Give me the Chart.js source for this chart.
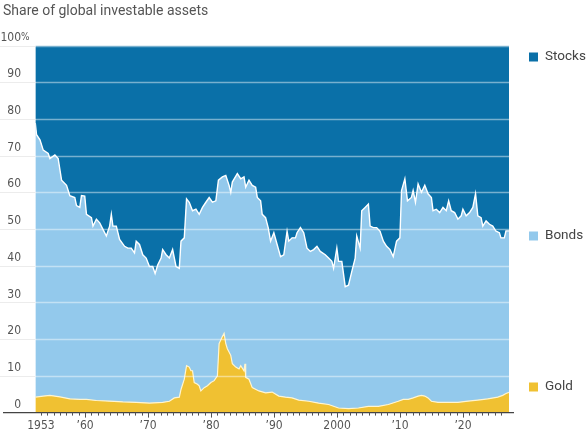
<!DOCTYPE html>
<html>
<head>
<meta charset="utf-8">
<script src="https://cdn.jsdelivr.net/npm/chart.js@4.4.1/dist/chart.umd.min.js"></script>
<style>
  html, body { margin: 0; padding: 0; background: #ffffff; }
  #c { display: block; }
</style>
</head>
<body>
<canvas id="c" width="588" height="441"></canvas>
<script>
// ---- Data ----
const titleText = 'Share of global investable assets';

// Top edge of the bonds band (gold + bonds, %); above it is stocks up to 100%
const bondYears = [1952.1,1952.3,1952.84,1953.36,1954.15,1954.42,1955.21,1955.73,1956.27,1957.06,1957.58,1958.37,1958.64,1959.16,1959.43,1959.95,1960.22,1961.01,1961.26,1961.8,1962.32,1962.84,1963.38,1963.9,1964.17,1964.42,1964.96,1965.48,1966.27,1966.79,1967.33,1967.85,1968.12,1968.64,1969.16,1969.7,1970.22,1970.74,1971.12,1971.53,1972.07,1972.32,1972.86,1973.38,1973.9,1974.44,1974.96,1975.23,1975.75,1976.11,1976.54,1977.06,1977.6,1978.12,1978.64,1979.18,1979.7,1980.22,1980.76,1981.17,1981.8,1982.34,1982.86,1983.13,1983.38,1984.17,1984.71,1985.23,1985.5,1986.02,1986.54,1987.08,1987.34,1987.87,1988.12,1988.66,1989.07,1989.45,1989.97,1990.49,1991.03,1991.55,1992.07,1992.34,1992.86,1993.4,1993.65,1994.19,1994.71,1995.23,1995.77,1996.29,1996.81,1997.34,1998.13,1998.66,1999.18,1999.45,1999.97,2000.24,2000.76,2001.3,2001.82,2002.34,2002.88,2003.13,2003.67,2003.92,2004.46,2004.98,2005.25,2005.77,2006.29,2006.83,2007.35,2007.87,2008.41,2008.92,2009.45,2009.98,2010.24,2010.77,2011.18,2011.81,2012.08,2012.45,2012.87,2013.4,2013.93,2014.45,2014.98,2015.24,2015.76,2016.3,2016.82,2017.34,2017.72,2018.13,2018.67,2019.19,2019.71,2019.98,2020.5,2021.04,2021.56,2021.99,2022.35,2022.87,2023.14,2023.66,2024.2,2024.72,2025.24,2025.77,2026.02,2026.56,2026.82,2027.3];
const bondsTop = [78.9,75.7,74.3,71.5,70.6,69.2,70.2,69.2,63.3,61.9,59.1,58.6,56.4,55.9,59.1,59.0,54.0,53.1,50.8,52.7,51.7,49.9,48.1,50.8,54.0,50.8,50.8,47.2,45.3,44.8,44.8,43.5,46.7,45.8,43.0,42.1,39.8,39.8,37.9,40.2,42.1,44.4,43.0,42.1,44.4,39.8,39.3,46.7,47.6,58.2,57.3,55.0,55.4,54.0,55.9,57.3,58.6,57.3,57.7,63.3,64.2,64.6,61.9,60.0,62.8,65.1,63.7,64.2,61.4,63.3,61.9,61.4,58.6,57.7,54.0,53.1,50.4,46.7,49.0,45.8,42.5,43.0,49.4,46.7,47.6,47.6,49.0,50.4,49.0,44.8,43.9,44.4,45.3,43.9,43.0,42.1,41.2,39.3,44.8,41.2,41.2,34.3,34.7,38.4,42.1,48.1,44.8,55.0,55.9,56.8,50.8,50.4,50.4,49.4,46.7,45.3,44.4,42.5,46.7,47.6,60.5,63.7,57.7,58.6,60.5,57.3,62.3,60.0,61.9,59.6,58.6,55.0,55.4,54.5,55.9,55.0,57.7,55.0,54.5,52.7,53.6,55.4,53.6,54.5,55.9,59.6,53.6,53.1,50.8,52.2,51.3,50.8,49.4,49.0,47.6,47.6,49.5,49.5];

// Gold share (%)
const goldYears = [1952.1,1953.36,1954.42,1956.0,1957.58,1959.16,1960.22,1961.8,1963.9,1966.0,1968.12,1970.22,1972.32,1973.38,1974.17,1974.96,1975.23,1975.75,1976.11,1976.54,1976.81,1977.06,1977.33,1977.85,1978.12,1978.38,1978.91,1979.43,1979.97,1980.49,1981.01,1981.28,1981.8,1982.07,1982.34,1982.59,1983.13,1983.38,1983.92,1984.44,1984.71,1985.23,1985.39,1985.5,1986.02,1986.54,1987.6,1988.66,1989.7,1990.76,1991.82,1992.86,1993.92,1995.5,1997.08,1998.66,2000.24,2001.82,2003.4,2004.98,2006.56,2008.14,2009.72,2010.51,2011.3,2012.09,2012.88,2013.4,2013.93,2014.45,2014.98,2016.03,2017.61,2019.19,2020.77,2022.35,2023.93,2025.51,2026.3,2026.82,2027.3];
const goldShare = [4.2,4.5,4.7,4.3,3.75,3.6,3.6,3.3,3.1,2.9,2.8,2.6,2.8,3.1,4.0,4.2,6.3,9.1,12.8,12.4,11.4,11.4,8.2,7.7,7.3,5.9,6.8,7.3,8.2,8.7,10.0,18.8,20.7,21.6,18.8,17.4,15.6,13.3,12.4,11.9,12.8,11.4,13.3,9.6,9.1,6.8,5.9,5.4,5.6,4.5,4.2,4.0,3.4,3.1,2.6,2.2,1.25,1.1,1.25,1.7,1.7,2.2,3.1,3.6,3.6,4.0,4.5,4.7,4.5,4.0,3.1,2.8,2.8,2.8,3.1,3.4,3.75,4.2,4.7,5.2,5.5];

const xTickYears = [1953, 1960, 1970, 1980, 1990, 2000, 2010, 2020];
const xTickLabels = ['1953', '\u201960', '\u201970', '\u201980', '\u201990', '2000', '\u201910', '\u201920'];
const yTickValues = [0, 10, 20, 30, 40, 50, 60, 70, 80, 90, 100];
const legendNames = ['Stocks', 'Bonds', 'Gold'];

// ---- Styles ----
const C_STOCKS = '#0a70a8';
const C_BONDS = '#93c9ec';
const C_GOLD = '#f0c132';
const NARROW = '"Liberation Sans Narrow", "DejaVu Sans Condensed", Roboto, sans-serif';
const SANS = 'Roboto, "Open Sans", sans-serif';

const overlay = {
  id: 'overlay',
  afterDatasetsDraw(chart) {
    const ctx = chart.ctx;
    const area = chart.chartArea;
    const xs = chart.scales.x, ys = chart.scales.y;
    ctx.save();
    // grid lines drawn on top of areas
    yTickValues.forEach(v => {
      if (v === 0) return;
      const y = Math.round(ys.getPixelForValue(v)) + 0.5;
      ctx.strokeStyle = 'rgba(255,255,255,0.45)';
      ctx.lineWidth = 1.5;
      ctx.beginPath(); ctx.moveTo(area.left, y); ctx.lineTo(area.right, y); ctx.stroke();
      ctx.strokeStyle = '#ececec';
      ctx.lineWidth = 1;
      ctx.beginPath(); ctx.moveTo(0, y); ctx.lineTo(area.left, y); ctx.stroke();
    });
    // baseline axis
    const by = ys.getPixelForValue(0);
    ctx.strokeStyle = '#444';
    ctx.lineWidth = 1.3;
    ctx.beginPath(); ctx.moveTo(3, by); ctx.lineTo(area.right + 5, by); ctx.stroke();
    // yearly ticks
    ctx.lineWidth = 1;
    ctx.strokeStyle = '#555';
    for (let yr = 1953; yr <= 2026; yr++) {
      const x = Math.round(xs.getPixelForValue(yr)) + 0.5;
      const major = yr % 10 === 0;
      ctx.beginPath(); ctx.moveTo(x, by); ctx.lineTo(x, by + (major ? 5 : 3)); ctx.stroke();
    }
    // y labels
    ctx.fillStyle = '#555';
    ctx.textBaseline = 'middle';
    yTickValues.forEach(v => {
      const y = ys.getPixelForValue(v) - 8;
      ctx.font = '12px ' + NARROW;
      ctx.textAlign = 'right';
      ctx.fillText(String(v), 21, y);
      if (v === 100) {
        ctx.font = '10px ' + NARROW;
        ctx.textAlign = 'left';
        ctx.fillText('%', 21, y);
      }
    });
    // title
    ctx.fillStyle = '#555';
    ctx.font = '14px ' + SANS;
    ctx.textAlign = 'left';
    ctx.textBaseline = 'alphabetic';
    ctx.fillText(titleText, 3, 15);
    // legend
    const cols = [C_STOCKS, C_BONDS, C_GOLD];
    const ly = [57, 236, 387];
    ctx.font = '13.5px ' + SANS;
    ctx.textBaseline = 'middle';
    legendNames.forEach((n, i) => {
      ctx.fillStyle = cols[i];
      ctx.fillRect(529, ly[i] - 4.5, 9, 9);
      ctx.fillStyle = '#444';
      ctx.fillText(n, 545, ly[i]);
    });
    ctx.restore();
  }
};

const toPts = (xs, ys) => xs.map((x, i) => ({ x: x, y: ys[i] }));

new Chart(document.getElementById('c'), {
  type: 'line',
  data: {
    datasets: [
      { label: 'Gold', data: toPts(goldYears, goldShare), fill: 'origin', backgroundColor: C_GOLD,
        borderColor: '#fff5d0', borderWidth: 1.2, pointRadius: 0, tension: 0 },
      { label: 'Bonds', data: toPts(bondYears, bondsTop), fill: '-1', backgroundColor: C_BONDS,
        borderColor: '#ffffff', borderWidth: 1.4, pointRadius: 0, tension: 0 },
      { label: 'Stocks', data: toPts(bondYears, bondsTop), fill: 'end', backgroundColor: C_STOCKS,
        borderWidth: 0, borderColor: 'rgba(0,0,0,0)', pointRadius: 0, tension: 0 }
    ]
  },
  options: {
    responsive: false,
    animation: false,
    layout: { padding: { left: 35.3, right: 79, top: 45.5, bottom: 1 } },
    plugins: { legend: { display: false }, tooltip: { enabled: false }, title: { display: false } },
    scales: {
      x: {
        type: 'linear', min: 1952.1, max: 2027.3,
        grid: { display: false, drawTicks: false },
        border: { display: false },
        afterBuildTicks: s => { s.ticks = xTickYears.map(v => ({ value: v })); },
        ticks: {
          autoSkip: false, maxRotation: 0, padding: 6.5, color: '#555',
          font: { family: NARROW, size: 12 },
          callback: v => { const i = xTickYears.indexOf(v); return i >= 0 ? xTickLabels[i] : ''; }
        }
      },
      y: { type: 'linear', min: 0, max: 100, display: false }
    }
  },
  plugins: [overlay]
});
</script>
</body>
</html>
